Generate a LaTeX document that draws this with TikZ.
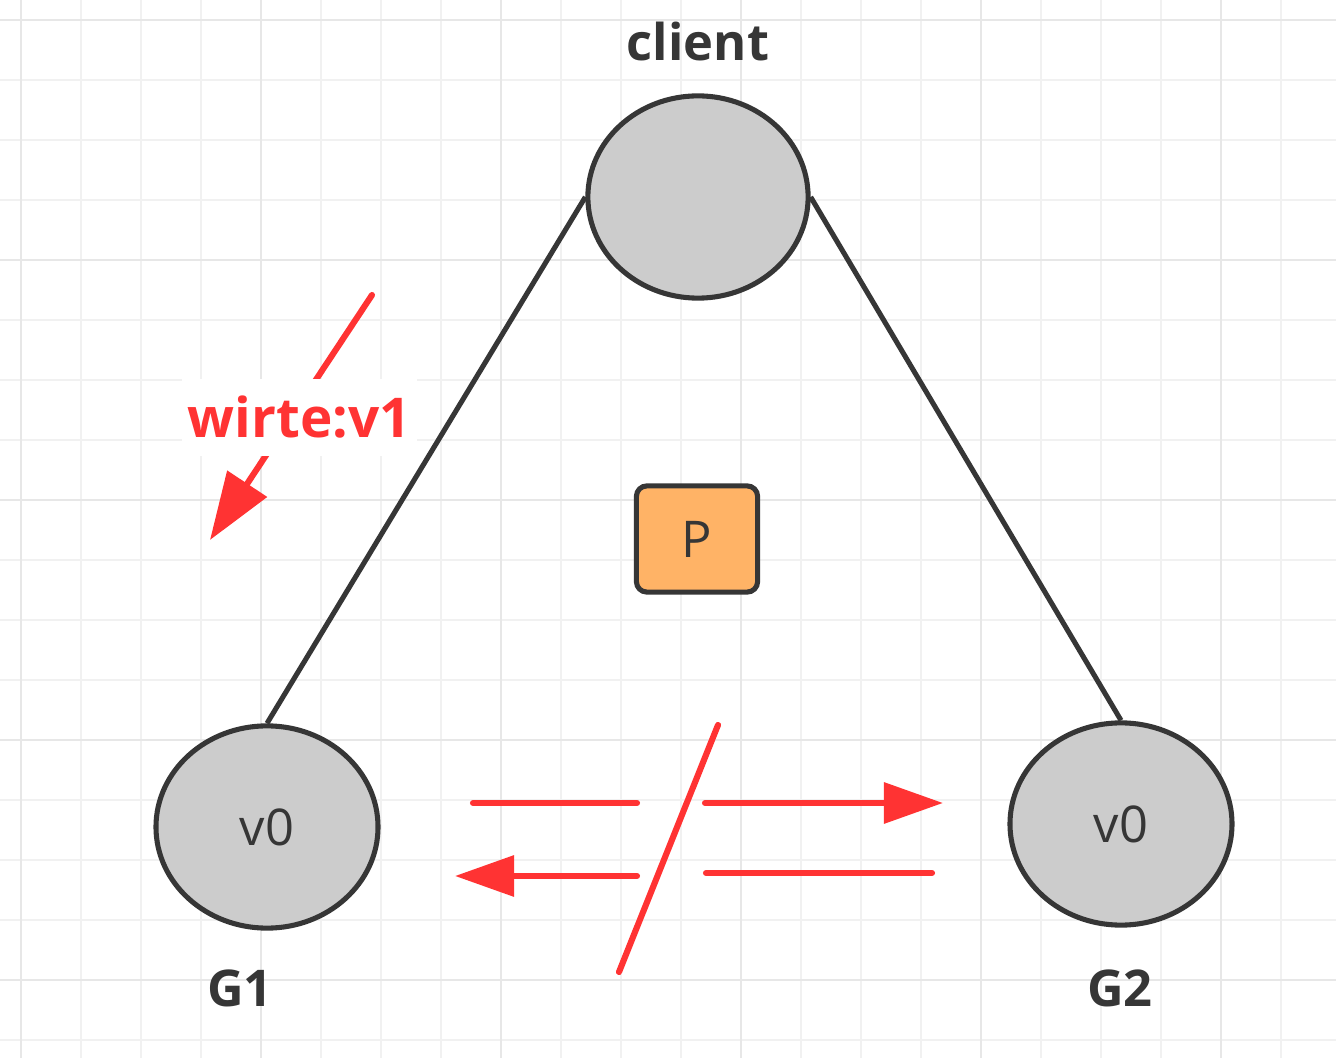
\documentclass[tikz,border=0pt]{standalone}
\usepackage{fontspec}
\setmainfont{Open Sans}
\usetikzlibrary{arrows.meta,shapes.geometric}

\definecolor{gridminor}{HTML}{F1F1F1}
\definecolor{gridmajor}{HTML}{E7E7E7}
\definecolor{nodegray}{HTML}{CCCCCC}
\definecolor{edgegray}{HTML}{363636}
\definecolor{partorange}{HTML}{FFB366}
\definecolor{msgred}{HTML}{FF3333}

\tikzset{
  replica/.style={ellipse, draw=edgegray, line width=2.4pt, fill=nodegray,
    minimum width=3.7cm, minimum height=3.37cm, inner sep=0pt,
    text=edgegray, font=\fontsize{24}{28}\selectfont},
  caption/.style={text=edgegray, font=\bfseries\fontsize{24}{28}\selectfont},
  link/.style={draw=edgegray, line width=2.4pt},
  msg/.style={draw=msgred, line width=2.9pt, line cap=round},
  msghead/.style={-{Triangle[length=28pt,width=19pt]}}
}

\begin{document}
\begin{tikzpicture}[x=0.0166667cm, y=-0.0166667cm]

        % Canvas and grid
        \useasboundingbox (0,0) rectangle (1336,1058);
        \fill[white] (0,0) rectangle (1336,1058);
        \foreach \gx in {21,81,...,1300} \draw[gridminor, line width=0.9pt] (\gx,0) -- (\gx,1058);
        \foreach \gy in {20,80,...,1050} \draw[gridminor, line width=0.9pt] (0,\gy) -- (1336,\gy);
        \foreach \gx in {21,261,...,1300} \draw[gridmajor, line width=1.2pt] (\gx,0) -- (\gx,1058);
        \foreach \gy in {20,260,...,1050} \draw[gridmajor, line width=1.2pt] (0,\gy) -- (1336,\gy);

        % Client entity
        \node[replica, minimum width=3.67cm] (client) at (698,197) {};
        \node[caption] (clientname) at (698,42) {client};

        % Replica entities
        \node[replica] (g1) at (267,827) {v0};
        \node[caption] (g1name) at (240,988) {G1};
        \node[replica] (g2) at (1121,824) {v0};
        \node[caption] (g2name) at (1120,988) {G2};

        % Client links
        \draw[link] (client.west) -- (g1.north);
        \draw[link] (client.east) -- (g2.north);

        % Partition
        \node[draw=edgegray, line width=2.4pt, fill=partorange, rounded corners=5pt,
          minimum width=2.02cm, minimum height=1.77cm, text=edgegray,
          font=\fontsize{24}{28}\selectfont] (part) at (697,539) {P};

        % Write request
        \coordinate (wstart) at (372,295);
        \coordinate (wend) at (210,540);
        \draw[msg, -{Triangle[length=32pt,width=22pt]}] (wstart) -- node[fill=white, xshift=4pt,
          inner xsep=3pt, inner ysep=8pt, text=msgred,
          font=\bfseries\fontsize{26}{30}\selectfont] (wlabel) {wirte:v1} (wend);

        % Broken replication between G1 and G2
        \coordinate (ab1) at (473,803);
        \coordinate (ab2) at (637,803);
        \coordinate (ab3) at (705,803);
        \coordinate (ab4) at (943,803);
        \coordinate (ba1) at (932,873);
        \coordinate (ba2) at (706,873);
        \coordinate (ba3) at (637,876);
        \coordinate (ba4) at (455,876);
        \coordinate (cuttop) at (718,725);
        \coordinate (cutbot) at (619,972);
        \draw[msg] (ab1) -- (ab2);
        \draw[msg, msghead] (ab3) -- (ab4);
        \draw[msg] (ba1) -- (ba2);
        \draw[msg, msghead] (ba3) -- (ba4);
        \draw[msg] (cuttop) -- (cutbot);
    \end{tikzpicture}
\end{document}
